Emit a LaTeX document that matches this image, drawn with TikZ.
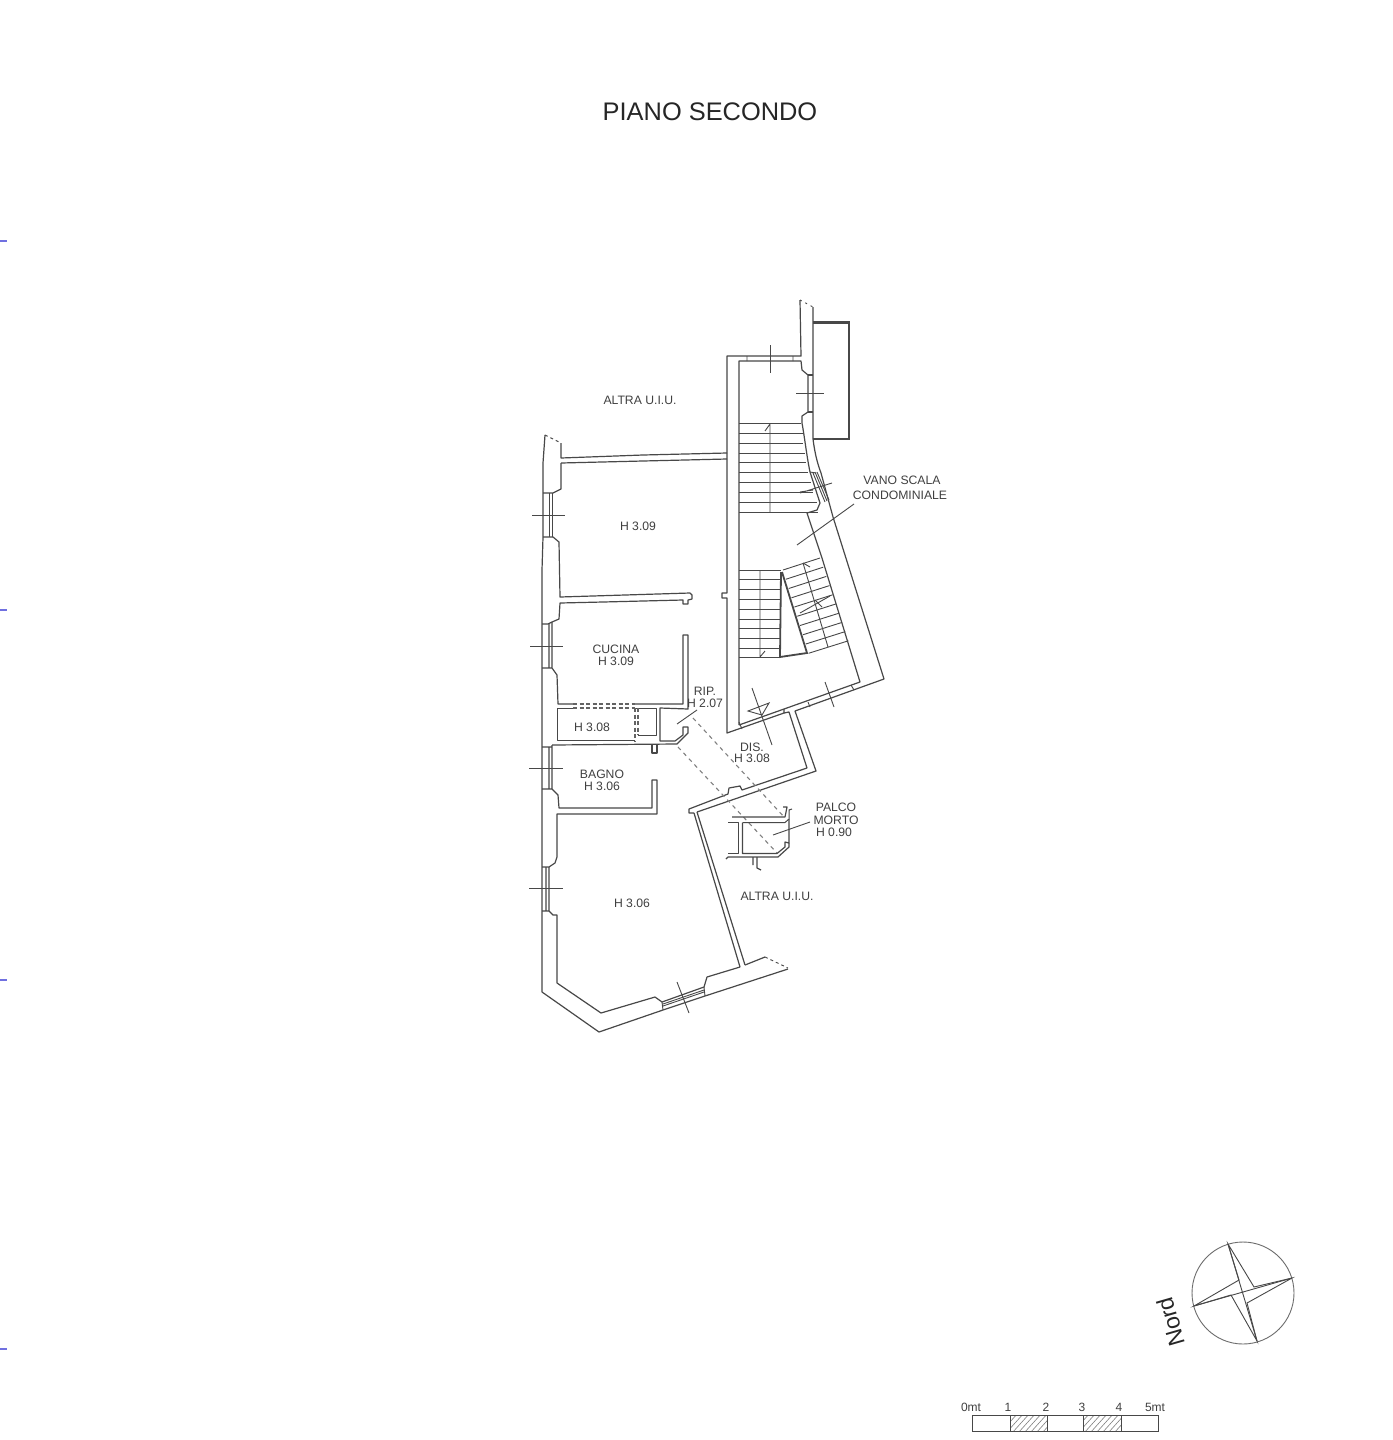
\documentclass[tikz,border=0pt]{standalone}
\usepackage{fontspec}
\setmainfont{Liberation Sans}
\definecolor{ink}{HTML}{484848}
\definecolor{txt}{HTML}{404040}
\definecolor{tickblue}{HTML}{7070E0}
\tikzset{
  wall/.style={draw=ink,line width=1.2pt,line join=round},
  slim/.style={draw=ink,line width=1pt,line join=round},
  thin/.style={draw=ink,line width=0.9pt},
  heavy/.style={draw=ink,line width=2.4pt,line join=miter},
  dashline/.style={draw=gray,line width=1.1pt,dash pattern=on 4pt off 4pt},
  dashheavy/.style={draw=ink!85,line width=1.4pt,dash pattern=on 4pt off 2.5pt},
  lbl/.style={inner sep=0pt,text=txt,font=\fontsize{12.2}{12.2}\selectfont},
  scalelbl/.style={inner sep=0pt,text=txt,font=\fontsize{12}{12}\selectfont},
  sheet/.style={draw=tickblue,line width=1.1pt}
}
\begin{document}
\begin{tikzpicture}[x=1pt,y=-1pt]
\useasboundingbox (0,0) rectangle (1392,1440);
\fill[white] (0,0) rectangle (1392,1440);
% sheet ticks
\foreach \yy in {241,610,980,1349} \draw[sheet] (0,\yy) -- (7,\yy);
% title
\node[inner sep=0pt,text=black!85,font=\fontsize{25.4}{26}\selectfont] (title) at (710,112) {PIANO SECONDO};
% stair enclosure: outer
\draw[wall] (800,300) -- (801,356) -- (727,356) -- (727,593) -- (722,593) -- (722,598) -- (727,598) -- (727,733) -- (784,713) -- (784,709);
\draw[wall] (784,713) -- (789,712) -- (807,768) -- (742,790) -- (740,786) -- (729,788) -- (728,794) -- (689,809) -- (689,813) -- (694,813);
\draw[wall] (813,307) -- (813,439) .. controls (815,455) and (818,465) .. (821,473) -- (833,517) -- (884,679) -- (795,711) -- (816,771) -- (697,812);
% stair inner
\draw[wall] (739,725) -- (739,361) -- (801,361) -- (802,370) -- (808,375) -- (808,412) -- (802,416) -- (802,423) .. controls (805,440) and (807,458) .. (810,472) -- (820,503) -- (817,510) -- (807,513) -- (822,558) -- (860,682) -- (739,725);
\draw[wall] (808,375) -- (813,375) (808,412) -- (813,412);
\draw[thin] (747,356) -- (747,361) (793,356) -- (793,361) (739,722) -- (742,729) (808,702) -- (810,707) (851,685) -- (854,690);
\draw[thin] (770,345) -- (770,373) (796,393) -- (824,393);
\draw[thin,dash pattern=on 2pt off 4pt] (800,300) -- (813,307);
% balcony
\draw[heavy] (813,322.5) -- (849,322.5) -- (849,439) -- (813,439);
% stair window
\draw[thin] (813,473) -- (825,502) (815,472) -- (827,501) (817,472) -- (829,500) (810,472) -- (816,473);
\draw[thin] (800,493) -- (832,483) (800,492) -- (813,490);
% upper flight
\foreach \yy/\xx in {423/801,433/803,443/803,453/805,462/806,472/808,482/811,492/813,502/817,512/818}
  \draw[thin] (739,\yy) -- (\xx,\yy);
\draw[thin] (770,424) -- (770,512) (770,424) -- (765,431);
% leader
\draw[thin] (797,545) -- (854,504);
% lower flight left
\foreach \yy in {570,579,589,599,609,619,628,638,648,657}
  \draw[thin] (739,\yy) -- (781,\yy);
\draw[thin] (760,570) -- (760,657) (760,657) -- (765,651);
\draw[draw=ink,line width=1.8pt] (781,572) -- (780,657) -- (807,653) -- (782,572);
% lower flight right
\foreach \i in {0,...,9}{
  \draw[thin] ({783+\i*2.85},{570+\i*9.25}) -- ({820+\i*3.15},{558+\i*9.2});
}
\draw[thin] (803,563) -- (828,647) (803,563) -- (810,567);
\draw[thin] (800,613) -- (830,596) (815,600) -- (822,607);
% DIS crosses
\draw[thin] (752,688) -- (772,745) (825,682) -- (834,707);
\draw[thin] (748,711) -- (769,703) -- (762,715) -- cycle;
% walls room 1
\draw[wall] (561,443) -- (561,458) -- (643,455) -- (727,453);
\draw[wall] (561,463) -- (643,461) -- (727,459);
\draw[wall] (545,435) -- (543,463) -- (543,537) -- (542,570) -- (542,992) -- (599,1032) -- (663,1010) -- (705,996) -- (788,969);
\draw[thin,dash pattern=on 3pt off 3pt] (545,435) -- (561,443);
% window 1 and reveal
\draw[wall] (561,463) -- (561,489) -- (553,493) -- (543,493) (543,537) -- (553,537) -- (559,542) -- (560,597) -- (690,593) -- (692,595) -- (692,599) -- (688,600) -- (688,604) -- (683,604) -- (683,600) -- (603,602) -- (560,603) -- (559,619) -- (552,622) -- (548,624) -- (542,624);
\draw[wall] (552.5,493) -- (552.5,537) (549.5,493) -- (549.5,537);
\draw[thin] (532,515) -- (565,515);
% window 2
\draw[wall] (552,622) -- (552,668) (549,624) -- (549,668) (542,668) -- (552,668) -- (557,675) -- (558,704) -- (573,704);
\draw[wall] (635,704) -- (683,704) -- (683,635) -- (688,635) -- (688,709) -- (660,708) -- (660,741) -- (675,741) -- (683,735) -- (683,727) -- (688,727) -- (688,733) -- (677,744) -- (552,745);
\draw[thin] (530,646) -- (563,646);
% small room
\draw[slim] (573,708.5) -- (557.5,708.5) -- (557.5,740.5) -- (635,740.5);
\draw[slim] (635,708.5) -- (656.5,708.5) -- (656.5,735.5) -- (638,735.5);
\draw[dashheavy] (573,704) -- (635,704) (573,708) -- (635,708);
\draw[dashheavy] (635,708) -- (635,741) (638,708) -- (638,735);
% bathroom
\draw[wall] (652,745) -- (652,753) -- (657,753) -- (657,745);
\draw[wall] (542,747) -- (552,747) (549,747) -- (549,789) (552,745) -- (552,789) (542,789) -- (552,789) -- (558,795) -- (559,808) -- (652,808) -- (652,780) -- (657,780) -- (657,814) -- (557,814) -- (557,857) -- (555,863) -- (549,867) -- (542,867);
\draw[thin] (529,768) -- (563,768);
% window 4 and room 5
\draw[wall] (549,867) -- (549,911) (546,867) -- (546,911) (542,911) -- (549,911) -- (553,915) -- (557,915) -- (557,983) -- (601,1013) -- (655,997) -- (662,1002) -- (704,987) -- (707,977) -- (740,967) -- (694,813);
\draw[wall] (745,965) -- (697,812);
\draw[wall] (745,965) -- (765,957);
\draw[thin,dash pattern=on 3pt off 3pt] (765,957) -- (788,968);
\draw[thin] (529,888) -- (563,888);
% bottom window
\draw[thin] (662,1002) -- (663,1010) (704,987) -- (705,996) (663,1004) -- (704,990) (663,1006) -- (704,992);
\draw[thin] (677,982) -- (689,1013);
% dashed projection
\draw[dashline] (693,718) -- (785,818);
\draw[dashline] (678,747) -- (777,853);
% palco morto
\draw[wall] (732,817) -- (785,817) -- (787,807) -- (783,807);
\draw[slim] (728,822.5) -- (738.5,822.5) -- (738.5,853.5) -- (728,853.5);
\draw[slim] (742.5,822.5) -- (785,822.5) -- (789,819) -- (789,810) -- (792,809);
\draw[wall] (789,819) -- (789,843) -- (785,842) -- (785,847) -- (777,853.5) -- (742.5,853.5) -- (742.5,822.5);
\draw[wall] (726,859) -- (728,857) -- (778,857) -- (789,847) -- (789,843);
\draw[wall] (753,857) -- (753,865) (757,857) -- (757,868) -- (761,870);
\draw[thin] (773,835) -- (810,822);
% RIP leader
\draw[thin] (677,724) -- (697,710);
% labels
\node[lbl] (altra1) at (640,400) {ALTRA U.I.U.};
\node[lbl] (vano) at (902,480) {VANO SCALA};
\node[lbl] (cond) at (900,495) {CONDOMINIALE};
\node[lbl] (r1) at (638,526) {H 3.09};
\node[lbl] (cuc) at (616,649) {CUCINA};
\node[lbl] (cuch) at (616,661) {H 3.09};
\node[lbl] (rip) at (705,691) {RIP.};
\node[lbl] (riph) at (705,703) {H 2.07};
\node[lbl] (rp) at (592,727) {H 3.08};
\node[lbl] (bag) at (602,774) {BAGNO};
\node[lbl] (bagh) at (602,786) {H 3.06};
\node[lbl] (dis) at (752,747) {DIS.};
\node[lbl] (dish) at (752,758) {H 3.08};
\node[lbl] (palco) at (836,807) {PALCO};
\node[lbl] (morto) at (836,820) {MORTO};
\node[lbl] (palh) at (834,832) {H 0.90};
\node[lbl] (altra2) at (777,896) {ALTRA U.I.U.};
\node[lbl] (r5) at (632,903) {H 3.06};
% compass
\draw[thin,draw=ink!80] (1243,1293) circle (51);
\draw[thin] (1228,1244) -- (1257,1341) (1292,1278) -- (1194,1306);
\draw[thin] (1228,1244) -- (1254,1287) -- (1292,1278) -- (1247,1303) -- (1257,1341) -- (1231,1295) -- (1194,1306) -- (1239,1280) -- cycle;
\node[inner sep=0pt,text=black!85,rotate=106,font=\fontsize{23}{23}\selectfont] (nord) at (1171,1322) {Nord};
% scale bar
\begin{scope}
\clip (1010,1415) rectangle (1047,1431) (1083,1415) rectangle (1121,1431);
\foreach \k in {0,...,24}
  \draw[draw=ink!70,line width=0.6pt] ({1000+\k*6},1433) -- ({1018+\k*6},1413);
\end{scope}
\draw[thin] (972,1415) rectangle (1158,1431);
\draw[thin] (1010,1415) -- (1010,1431) (1047,1415) -- (1047,1431) (1083,1415) -- (1083,1431) (1121,1415) -- (1121,1431);
\node[scalelbl] (s0) at (971,1407) {0mt};
\node[scalelbl] (s1) at (1008,1407) {1};
\node[scalelbl] (s2) at (1046,1407) {2};
\node[scalelbl] (s3) at (1082,1407) {3};
\node[scalelbl] (s4) at (1119,1407) {4};
\node[scalelbl] (s5) at (1155,1407) {5mt};
\end{tikzpicture}
\end{document}
